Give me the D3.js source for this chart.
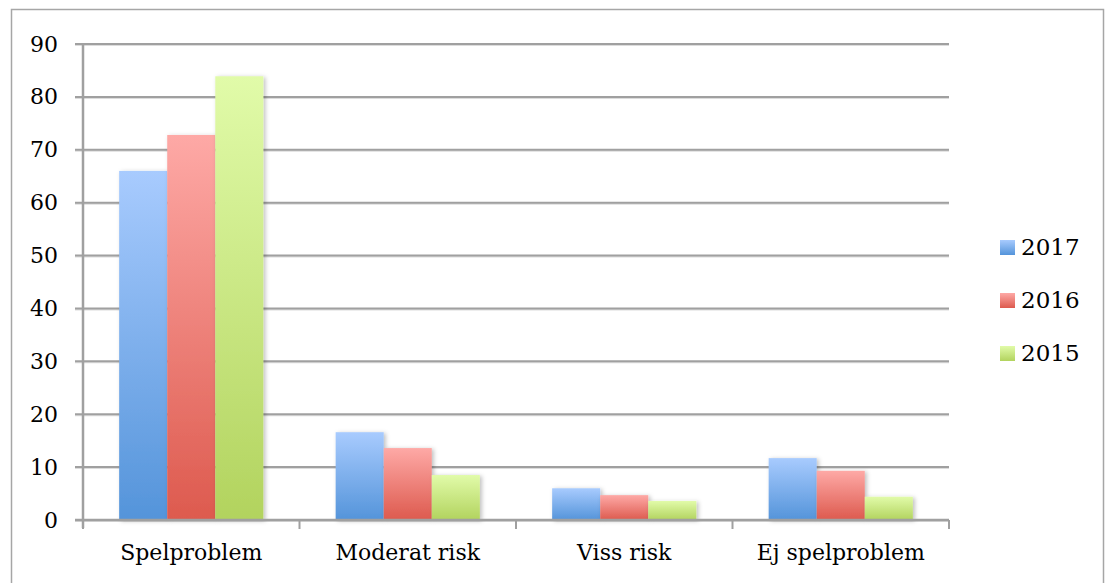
<!DOCTYPE html>
<html><head><meta charset="utf-8">
<script src="https://cdn.jsdelivr.net/npm/d3@7"></script>
<style>body{margin:0;background:#fff}svg{display:block}text{font-family:"DejaVu Serif",serif;fill:#000}</style>
</head><body><svg id="c" width="1106" height="583"></svg>
<script>
const categories = ["Spelproblem","Moderat risk","Viss risk","Ej spelproblem"];
const seriesNames = ["2017","2016","2015"];
const v2017 = [66.0,16.6,6.0,11.7];
const v2016 = [72.8,13.6,4.7,9.3];
const v2015 = [83.9,8.5,3.6,4.4];
const yTicks = [0,10,20,30,40,50,60,70,80,90];
const values = [v2017,v2016,v2015];
const colors = [["#a8cbfe","#5494da"],["#fea9a6","#dd5a4e"],["#e1fba9","#b2d35e"]];

const svg = d3.select("#c");
const defs = svg.append("defs");
colors.forEach((c,i)=>{
  const g = defs.append("linearGradient").attr("id","g"+i).attr("x1",0).attr("x2",0).attr("y1",0).attr("y2",1);
  g.append("stop").attr("offset","0%").attr("stop-color",c[0]);
  g.append("stop").attr("offset","100%").attr("stop-color",c[1]);
});
const f = defs.append("filter").attr("id","sh").attr("x","-20%").attr("y","-20%").attr("width","150%").attr("height","150%");
f.append("feDropShadow").attr("dx",2).attr("dy",1).attr("stdDeviation",2).attr("flood-color","#000").attr("flood-opacity",0.25);

svg.append("rect").attr("x",11.5).attr("y",9.5).attr("width",1092).attr("height",600).attr("fill","none").attr("stroke","#a6a6a6").attr("stroke-width",1.5);

const L=83,R=949,T=44,B=520;
const x = d3.scaleBand().domain(categories).range([L,R]).paddingInner(0.334).paddingOuter(0.167);
const xs = d3.scaleBand().domain(seriesNames).range([0,x.bandwidth()]);
const y = d3.scaleLinear().domain([0,90]).range([B,T]);

// gridlines
const grid = svg.append("g");
yTicks.forEach(t=>{
  grid.append("line").attr("x1",L-8).attr("x2",R).attr("y1",y(t)+1).attr("y2",y(t)+1).attr("stroke","#dcdcdc").attr("stroke-width",2);
  grid.append("line").attr("x1",L-8).attr("x2",R).attr("y1",y(t)).attr("y2",y(t)).attr("stroke","#a0a0a0").attr("stroke-width",2);
});
svg.append("line").attr("x1",L).attr("x2",L).attr("y1",T).attr("y2",B+8).attr("stroke","#a0a0a0").attr("stroke-width",2.5);

// bars
categories.forEach((cat,ci)=>{
  seriesNames.forEach((s,si)=>{
    svg.append("rect").attr("x",x(cat)+xs(s)).attr("width",xs.bandwidth())
      .attr("y",y(values[si][ci])).attr("height",B-y(values[si][ci]))
      .attr("fill",`url(#g${si})`).attr("filter","url(#sh)");
  });
});

// x axis
const xa = svg.append("g").attr("transform",`translate(0,${B})`).call(d3.axisBottom(x).tickSize(0).tickPadding(24));
xa.select(".domain").remove();
xa.selectAll("text").attr("font-size","22px").attr("font-family","DejaVu Serif");
svg.append("line").attr("x1",L-8).attr("x2",R).attr("y1",B).attr("y2",B).attr("stroke","#a0a0a0").attr("stroke-width",2.5);
const edges = categories.map(c=>x(c)-x.step()*x.paddingInner()/2).concat([R]);
edges.forEach(e=>svg.append("line").attr("x1",e).attr("x2",e).attr("y1",B).attr("y2",B+9).attr("stroke","#a0a0a0").attr("stroke-width",2));

// y axis labels
const ya = svg.append("g").attr("transform",`translate(${L},0)`).call(d3.axisLeft(y).tickValues(yTicks).tickSize(0).tickPadding(25));
ya.select(".domain").remove();
ya.selectAll("text").attr("font-size","22px").attr("font-family","DejaVu Serif");

// legend
const lg = svg.append("g");
seriesNames.forEach((s,i)=>{
  const yy = 247 + i*53;
  lg.append("rect").attr("x",1000).attr("y",yy-7).attr("width",15).attr("height",15).attr("fill",`url(#g${i})`);
  lg.append("text").attr("x",1021).attr("y",yy).attr("dy","0.35em").attr("font-size","23px").text(s);
});
</script></body></html>
